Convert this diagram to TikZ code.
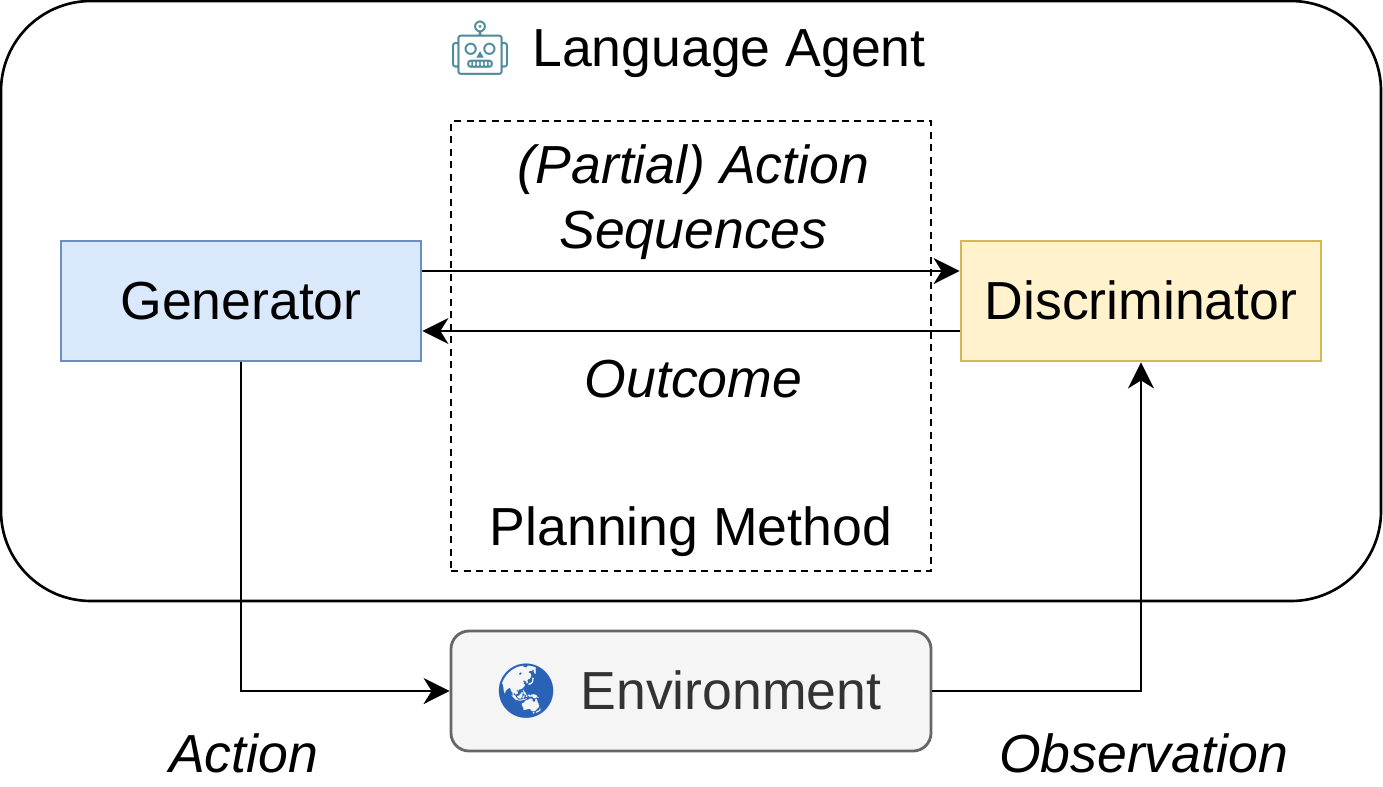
\documentclass[tikz,border=0pt]{standalone}
\usepackage{fontspec}
\setmainfont{Liberation Sans}
\newfontfamily\emojifont{Noto Emoji}
\usetikzlibrary{arrows.meta}
\definecolor{genfill}{HTML}{DAE8FC}
\definecolor{gendraw}{HTML}{6C8EBF}
\definecolor{discfill}{HTML}{FFF2CC}
\definecolor{discdraw}{HTML}{D6B656}
\definecolor{envfill}{HTML}{F5F5F5}
\definecolor{envdraw}{HTML}{666666}
\definecolor{envtext}{HTML}{333333}
\definecolor{robotcolor}{HTML}{4F8C9C}
\definecolor{globecolor}{HTML}{2A62B8}
\newcommand{\robotmark}{{\emojifont\color{robotcolor}🤖}}
\newcommand{\globemark}{{\emojifont\color{globecolor}🌏}}
\tikzset{
    every node/.style = {font=\fontsize{30.5}{37}\selectfont},
    box/.style = {draw, line width=1.6pt, minimum width=7.2cm, minimum height=2.4cm, text height=0.85cm, text depth=0.12cm},
    note/.style = {font=\fontsize{30.5}{37}\selectfont\itshape, align=center},
    link/.style = {line width=1.5pt, -{Stealth[length=0.52cm,width=0.52cm,inset=0.16cm]}}
}
\begin{document}
\begin{tikzpicture}
    \useasboundingbox (0,0) rectangle (27.66,-15.72);

    \node[draw, line width=1.5pt, rounded corners=1.8cm, minimum width=27.6cm, minimum height=12cm] (agent) at (13.82,-6.02) {};
    \node (agenttitle) at (13.82,-0.98) {\robotmark\hspace{0.36cm}Language Agent\kern0.2cm};

    \node[draw, dashed, dash pattern=on 0.14cm off 0.11cm, line width=1.5pt, minimum width=9.6cm, minimum height=9cm] (method) at (13.82,-6.92) {};
    \node (methodtitle) at (13.82,-10.64) {Planning Method};

    \node[box, fill=genfill, draw=gendraw] (generator) at (4.82,-6.02) {Generator};
    \node[box, fill=discfill, draw=discdraw] (discriminator) at (22.82,-6.02) {Discriminator};
    \node[box, fill=envfill, draw=envdraw, text=envtext, minimum width=9.6cm, rounded corners=0.36cm] (environment) at (13.82,-13.82) {\globemark\hspace{0.4cm}Environment\kern0.16cm};

    % messages between the two modules
    \draw[link] ([yshift=0.6cm]generator.east) -- ([yshift=0.6cm]discriminator.west);
    \draw[link] ([yshift=-0.6cm]discriminator.west) -- ([yshift=-0.6cm]generator.east);
    \node[note] (sequences) at (13.87,-4.04) {(Partial) Action\\Sequences};
    \node[note] (outcome) at (13.87,-7.58) {Outcome};

    % loop through the environment
    \draw[link] (generator.south) |- (environment.west);
    \draw[link] (environment.east) -| (discriminator.south);
    \node[note] (action) at (4.87,-15.06) {Action};
    \node[note] (observation) at (22.87,-15.06) {Observation};
\end{tikzpicture}
\end{document}
